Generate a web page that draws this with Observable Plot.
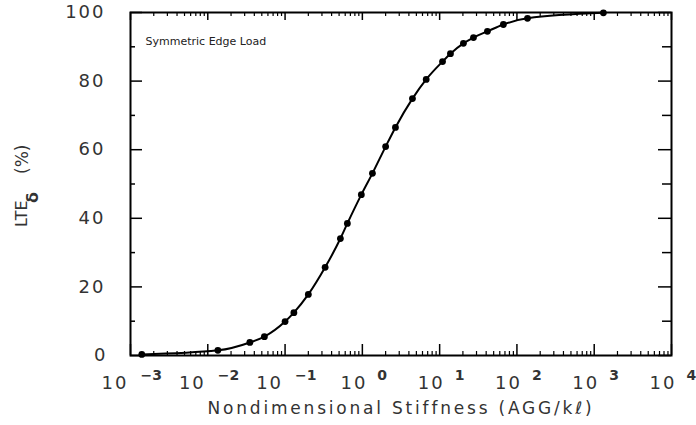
<!DOCTYPE html>
<html>
<head>
<meta charset="utf-8">
<script src="https://cdn.jsdelivr.net/npm/d3@7"></script>
<script src="https://cdn.jsdelivr.net/npm/@observablehq/plot@0.6"></script>
<style>
  html, body { margin: 0; padding: 0; background: #fff; }
</style>
</head>
<body>
<div id="chart"></div>
<script>
// Data
const stiffness = [0.0014, 0.0135, 0.035, 0.054, 0.10, 0.13, 0.20, 0.33, 0.52, 0.64, 0.97, 1.35, 2.0, 2.68, 4.45, 6.7, 10.9, 13.8, 20.3, 27.4, 41.5, 66.8, 137, 1315];
const lte = [0.3, 1.5, 3.8, 5.5, 9.9, 12.5, 17.8, 25.7, 34.1, 38.5, 46.9, 53.1, 60.9, 66.5, 74.9, 80.5, 85.7, 88.0, 91.0, 92.7, 94.5, 96.5, 98.3, 99.9];
const xExponents = [-3, -2, -1, 0, 1, 2, 3, 4];
const yMajorTicks = [0, 20, 40, 60, 80, 100];
const yMinorTicks = [10, 30, 50, 70, 90];
const annotation = "Symmetric Edge Load";
const xTitle = "Nondimensional Stiffness (AGG/kℓ)";

const data = stiffness.map((x, i) => ({x, y: lte[i]}));
const xMajor = xExponents.map(e => 10 ** e);
const xMinor = [];
for (const e of xExponents.slice(0, -1)) for (let m = 2; m <= 9; m++) xMinor.push(m * 10 ** e);
const negExp = xExponents.filter(e => e < 0);
const posExp = xExponents.filter(e => e >= 0);

const W = 696, H = 425, mL = 130, mR = 25, mT = 12, mB = 70;
const pH = H - mT - mB, pW = W - mL - mR;
const txt = "#333";

const chart = Plot.plot({
  width: W, height: H,
  marginLeft: mL, marginRight: mR, marginTop: mT, marginBottom: mB,
  style: {fontFamily: "DejaVu Sans, sans-serif", background: "#fff", overflow: "visible"},
  x: {type: "log", domain: [1e-3, 1e4], axis: null},
  y: {domain: [0, 100], axis: null},
  marks: [
    // inward ticks: bottom
    Plot.ruleX(xMajor, {x: d => d, insetTop: pH - 11, strokeWidth: 1.5}),
    Plot.ruleX(xMinor, {x: d => d, insetTop: pH - 4, strokeWidth: 1.2}),
    // top
    Plot.ruleX(xMajor, {x: d => d, insetBottom: pH - 8, strokeWidth: 1.5}),
    Plot.ruleX(xMinor, {x: d => d, insetBottom: pH - 4, strokeWidth: 1.2}),
    // left
    Plot.ruleY(yMajorTicks, {y: d => d, insetRight: pW - 12, strokeWidth: 1.5}),
    Plot.ruleY(yMinorTicks, {y: d => d, insetRight: pW - 5, strokeWidth: 1.5}),
    // right
    Plot.ruleY(yMajorTicks, {y: d => d, insetLeft: pW - 13, strokeWidth: 1.5}),
    Plot.ruleY(yMinorTicks, {y: d => d, insetLeft: pW - 9, strokeWidth: 1.5}),
    Plot.frame({strokeWidth: 2}),
    // curve and points
    Plot.line(data, {x: "x", y: "y", stroke: "black", strokeWidth: 2, curve: "monotone-x"}),
    Plot.dot(data, {x: "x", y: "y", r: 3.4, fill: "black"}),
    // y tick labels
    Plot.text(yMajorTicks, {y: d => d, text: d => String(d), frameAnchor: "left", dx: -25, textAnchor: "end", fontSize: 18, fill: txt}),
    // x tick labels: negative exponents
    Plot.text(negExp, {x: d => 10 ** d, text: () => "10", frameAnchor: "bottom", dx: -2, dy: 33, textAnchor: "end", fontSize: 18, fill: txt}),
    Plot.text(negExp, {x: d => 10 ** d, text: d => "\u2212" + Math.abs(d), frameAnchor: "bottom", dx: 10, dy: 24, textAnchor: "start", fontSize: 14, fontWeight: "bold", fill: txt}),
    // x tick labels: non-negative exponents
    Plot.text(posExp, {x: d => 10 ** d, text: () => "10", frameAnchor: "bottom", dx: 5, dy: 33, textAnchor: "end", fontSize: 18, fill: txt}),
    Plot.text(posExp, {x: d => 10 ** d, text: d => String(d), frameAnchor: "bottom", dx: 15, dy: 24, textAnchor: "start", fontSize: 14, fontWeight: "bold", fill: txt}),
    // annotation
    Plot.text([annotation], {frameAnchor: "top-left", dx: 15, dy: 25, textAnchor: "start", fontSize: 11, fill: "#222"}),
    // x title
    Plot.text([xTitle], {frameAnchor: "bottom", dy: 58, fontSize: 17, fill: txt}),
    // y title (rotated, pieces)
    Plot.text(["LTE"], {frameAnchor: "left", dx: -109, dy: 43, rotate: -90, fontSize: 16, fill: txt}),
    Plot.text(["δ"], {frameAnchor: "left", dx: -98, dy: 19, rotate: -90, fontSize: 16, fontWeight: "bold", fill: txt}),
    Plot.text(["(%)"], {frameAnchor: "left", dx: -108, dy: -10, rotate: -90, fontSize: 17, fill: txt})
  ]
});
// widen letter spacing to match the reference's wide typeface
d3.select(chart).selectAll("text").each(function() {
  const t = this.textContent;
  if (t === xTitle) this.style.letterSpacing = "2.8px";
  else if (t === "10" || /^\d\d+$/.test(t)) this.style.letterSpacing = "2px";
});
document.getElementById("chart").appendChild(chart);
</script>
</body>
</html>
